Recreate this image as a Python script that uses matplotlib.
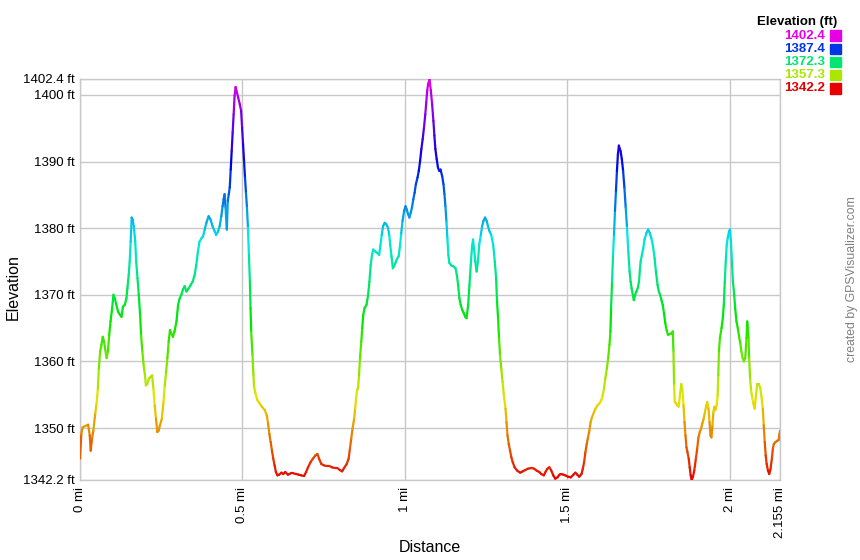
"""
Perfil de elevacao (estilo GPSVisualizer) - linha colorida pela altitude.
"""
import colorsys

import matplotlib
matplotlib.use("Agg")
import matplotlib.pyplot as plt
import numpy as np
from matplotlib.collections import LineCollection
from matplotlib.colors import ListedColormap, Normalize

plt.rcParams["font.family"] = ["Liberation Sans", "DejaVu Sans"]

# distancia (milhas) e elevacao (pes)
dist_mi = [
    0.000, 0.004, 0.008, 0.016, 0.025, 0.030, 0.033, 0.037, 0.041, 0.047,
    0.051, 0.055, 0.058, 0.062, 0.066, 0.070, 0.074, 0.078, 0.082, 0.086,
    0.090, 0.094, 0.099, 0.103, 0.107, 0.112, 0.117, 0.123, 0.128, 0.132,
    0.138, 0.143, 0.146, 0.150, 0.153, 0.156, 0.159, 0.162, 0.166, 0.170,
    0.173, 0.177, 0.181, 0.185, 0.188, 0.192, 0.196, 0.200, 0.203, 0.207,
    0.212, 0.218, 0.222, 0.226, 0.230, 0.234, 0.238, 0.242, 0.246, 0.252,
    0.257, 0.261, 0.265, 0.269, 0.273, 0.277, 0.281, 0.286, 0.291, 0.297,
    0.302, 0.307, 0.312, 0.317, 0.322, 0.328, 0.335, 0.341, 0.347, 0.353,
    0.358, 0.363, 0.368, 0.374, 0.379, 0.384, 0.389, 0.396, 0.402, 0.408,
    0.415, 0.419, 0.425, 0.430, 0.435, 0.439, 0.442, 0.445, 0.448, 0.452,
    0.455, 0.458, 0.461, 0.464, 0.467, 0.470, 0.473, 0.476, 0.479, 0.483,
    0.487, 0.492, 0.496, 0.499, 0.502, 0.505, 0.508, 0.511, 0.514, 0.517,
    0.520, 0.523, 0.525, 0.527, 0.531, 0.534, 0.536, 0.540, 0.546, 0.553,
    0.560, 0.569, 0.575, 0.579, 0.583, 0.587, 0.591, 0.595, 0.599, 0.603,
    0.608, 0.613, 0.620, 0.626, 0.632, 0.640, 0.649, 0.657, 0.665, 0.673,
    0.681, 0.690, 0.696, 0.702, 0.710, 0.717, 0.725, 0.731, 0.736, 0.743,
    0.751, 0.759, 0.768, 0.776, 0.784, 0.792, 0.800, 0.807, 0.813, 0.821,
    0.827, 0.831, 0.835, 0.839, 0.844, 0.847, 0.850, 0.853, 0.856, 0.859,
    0.862, 0.866, 0.869, 0.872, 0.876, 0.882, 0.887, 0.891, 0.895, 0.899,
    0.903, 0.909, 0.915, 0.921, 0.925, 0.929, 0.933, 0.938, 0.943, 0.948,
    0.952, 0.955, 0.959, 0.963, 0.967, 0.971, 0.975, 0.981, 0.985, 0.989,
    0.993, 0.998, 1.002, 1.006, 1.010, 1.014, 1.018, 1.022, 1.026, 1.030,
    1.034, 1.039, 1.043, 1.047, 1.051, 1.055, 1.059, 1.063, 1.066, 1.069,
    1.072, 1.076, 1.080, 1.084, 1.088, 1.091, 1.094, 1.098, 1.102, 1.106,
    1.110, 1.115, 1.119, 1.122, 1.125, 1.128, 1.131, 1.134, 1.137, 1.143,
    1.149, 1.156, 1.160, 1.164, 1.168, 1.172, 1.177, 1.182, 1.186, 1.190,
    1.195, 1.199, 1.203, 1.207, 1.210, 1.213, 1.217, 1.221, 1.225, 1.229,
    1.234, 1.238, 1.242, 1.247, 1.252, 1.256, 1.261, 1.266, 1.272, 1.277,
    1.281, 1.284, 1.287, 1.290, 1.293, 1.297, 1.301, 1.305, 1.310, 1.313,
    1.316, 1.320, 1.324, 1.328, 1.332, 1.338, 1.346, 1.355, 1.363, 1.371,
    1.379, 1.390, 1.398, 1.406, 1.414, 1.420, 1.428, 1.434, 1.439, 1.445,
    1.451, 1.457, 1.463, 1.470, 1.476, 1.482, 1.488, 1.494, 1.502, 1.511,
    1.519, 1.525, 1.531, 1.537, 1.544, 1.548, 1.552, 1.556, 1.560, 1.564,
    1.568, 1.572, 1.576, 1.580, 1.587, 1.593, 1.599, 1.605, 1.609, 1.613,
    1.617, 1.622, 1.626, 1.630, 1.633, 1.635, 1.638, 1.641, 1.644, 1.647,
    1.650, 1.653, 1.656, 1.659, 1.664, 1.668, 1.672, 1.676, 1.680, 1.684,
    1.688, 1.692, 1.695, 1.698, 1.702, 1.705, 1.709, 1.713, 1.717, 1.721,
    1.724, 1.726, 1.730, 1.734, 1.738, 1.744, 1.749, 1.754, 1.759, 1.764,
    1.769, 1.773, 1.778, 1.782, 1.786, 1.790, 1.794, 1.798, 1.802, 1.806,
    1.810, 1.815, 1.821, 1.825, 1.827, 1.829, 1.831, 1.835, 1.839, 1.843,
    1.847, 1.851, 1.855, 1.858, 1.861, 1.864, 1.867, 1.870, 1.874, 1.877,
    1.880, 1.883, 1.887, 1.891, 1.896, 1.900, 1.904, 1.908, 1.912, 1.916,
    1.920, 1.924, 1.928, 1.931, 1.935, 1.938, 1.941, 1.944, 1.947, 1.950,
    1.953, 1.956, 1.960, 1.963, 1.965, 1.967, 1.970, 1.975, 1.979, 1.982,
    1.985, 1.988, 1.991, 1.994, 1.998, 2.001, 2.004, 2.007, 2.010, 2.014,
    2.017, 2.021, 2.025, 2.029, 2.033, 2.036, 2.040, 2.044, 2.048, 2.052,
    2.054, 2.056, 2.058, 2.060, 2.063, 2.066, 2.069, 2.073, 2.077, 2.081,
    2.085, 2.089, 2.094, 2.098, 2.102, 2.105, 2.108, 2.111, 2.114, 2.118,
    2.122, 2.126, 2.130, 2.133, 2.136, 2.141, 2.147, 2.151, 2.153, 2.155,
]
elev_ft = [
    1345.4, 1349.1, 1350.1, 1350.3, 1350.5, 1348.9, 1346.6, 1348.4, 1349.6, 1352.2,
    1353.7, 1355.9, 1358.9, 1361.5, 1362.5, 1363.7, 1363.0, 1361.7, 1360.5, 1361.5,
    1364.0, 1366.0, 1368.0, 1370.0, 1369.5, 1368.5, 1367.5, 1367.0, 1366.7, 1368.2,
    1368.5, 1369.5, 1371.0, 1373.0, 1375.0, 1378.0, 1381.6, 1381.3, 1380.1, 1378.0,
    1375.0, 1372.5, 1370.0, 1367.0, 1364.0, 1361.5, 1359.4, 1357.9, 1356.4, 1356.6,
    1357.4, 1357.7, 1357.9, 1355.9, 1353.4, 1351.4, 1349.4, 1349.6, 1350.4, 1351.4,
    1353.9, 1356.4, 1358.4, 1360.5, 1363.0, 1364.7, 1364.2, 1363.7, 1364.5, 1366.0,
    1368.5, 1369.5, 1370.0, 1370.8, 1371.3, 1370.5, 1371.0, 1371.5, 1372.0, 1373.0,
    1374.5, 1376.5, 1378.0, 1378.5, 1378.8, 1379.8, 1380.8, 1381.8, 1381.3, 1380.3,
    1379.5, 1379.0, 1379.5, 1380.3, 1381.8, 1383.3, 1384.3, 1385.1, 1383.1, 1379.8,
    1384.1, 1385.1, 1386.1, 1388.8, 1391.6, 1394.4, 1397.1, 1399.9, 1401.2, 1400.4,
    1399.6, 1398.6, 1397.6, 1395.1, 1392.6, 1390.1, 1387.6, 1385.3, 1383.1, 1380.1,
    1376.0, 1372.0, 1368.0, 1364.5, 1361.0, 1357.9, 1356.2, 1355.2, 1354.2, 1353.7,
    1353.2, 1352.7, 1351.9, 1350.7, 1349.1, 1347.9, 1346.6, 1345.4, 1344.4, 1343.4,
    1342.9, 1343.0, 1343.3, 1343.1, 1343.4, 1343.0, 1343.2, 1343.2, 1343.1, 1343.0,
    1342.9, 1342.8, 1343.4, 1344.1, 1344.9, 1345.4, 1345.9, 1346.1, 1345.4, 1344.6,
    1344.4, 1344.3, 1344.3, 1344.1, 1344.0, 1344.0, 1343.7, 1343.5, 1344.0, 1344.6,
    1345.4, 1346.9, 1348.4, 1349.9, 1351.4, 1352.9, 1354.4, 1355.7, 1356.0, 1357.9,
    1360.5, 1363.0, 1365.0, 1367.0, 1368.0, 1368.5, 1370.0, 1372.0, 1374.5, 1376.0,
    1376.8, 1376.5, 1376.3, 1376.0, 1377.5, 1379.0, 1380.3, 1380.8, 1380.6, 1380.1,
    1379.0, 1377.5, 1375.8, 1374.0, 1374.3, 1374.8, 1375.3, 1375.8, 1377.3, 1379.3,
    1381.1, 1382.6, 1383.3, 1382.8, 1382.1, 1381.6, 1382.3, 1383.1, 1384.3, 1385.3,
    1386.6, 1387.6, 1388.6, 1390.1, 1391.9, 1393.4, 1395.1, 1397.1, 1398.9, 1400.7,
    1401.7, 1402.3, 1400.7, 1398.6, 1396.1, 1393.9, 1391.9, 1390.4, 1389.1, 1388.6,
    1388.8, 1387.8, 1386.6, 1385.1, 1383.3, 1381.1, 1378.5, 1376.0, 1374.8, 1374.4,
    1374.3, 1374.0, 1373.0, 1371.5, 1369.5, 1368.5, 1367.7, 1367.2, 1366.7, 1366.5,
    1368.5, 1371.5, 1374.5, 1377.3, 1378.3, 1377.0, 1375.0, 1373.5, 1375.0, 1377.5,
    1379.0, 1380.3, 1381.1, 1381.6, 1381.1, 1380.3, 1379.5, 1379.0, 1377.5, 1375.0,
    1372.5, 1369.0, 1366.5, 1363.5, 1361.0, 1358.9, 1356.9, 1354.9, 1352.9, 1350.9,
    1348.9, 1347.6, 1346.6, 1345.6, 1344.9, 1344.1, 1343.6, 1343.3, 1343.5, 1343.7,
    1343.9, 1344.0, 1343.9, 1343.6, 1343.4, 1343.1, 1342.9, 1343.5, 1343.9, 1344.1,
    1343.6, 1342.9, 1342.4, 1342.6, 1343.0, 1343.1, 1343.0, 1342.9, 1342.7, 1342.6,
    1343.0, 1343.3, 1343.0, 1342.7, 1343.1, 1343.9, 1344.9, 1346.4, 1347.6, 1348.6,
    1349.6, 1350.9, 1351.6, 1352.1, 1352.9, 1353.4, 1353.7, 1354.2, 1354.9, 1355.9,
    1357.4, 1358.9, 1360.5, 1362.5, 1364.5, 1368.0, 1372.0, 1376.0, 1379.0, 1382.6,
    1385.6, 1388.6, 1391.1, 1392.4, 1391.6, 1390.4, 1388.6, 1386.1, 1383.1, 1380.1,
    1376.5, 1373.5, 1372.0, 1371.0, 1370.0, 1369.2, 1370.0, 1370.5, 1371.0, 1372.0,
    1374.0, 1375.0, 1376.0, 1377.0, 1378.3, 1379.3, 1379.8, 1379.3, 1378.5, 1377.3,
    1375.5, 1373.5, 1371.5, 1370.5, 1370.0, 1369.2, 1368.5, 1367.2, 1365.7, 1364.7,
    1364.0, 1364.1, 1364.2, 1364.5, 1361.5, 1356.4, 1353.9, 1353.7, 1353.4, 1353.2,
    1354.9, 1356.6, 1355.4, 1353.4, 1350.9, 1348.9, 1347.1, 1346.4, 1345.4, 1344.1,
    1342.9, 1342.2, 1342.7, 1343.6, 1345.4, 1346.9, 1348.6, 1349.4, 1349.9, 1350.7,
    1351.4, 1352.4, 1353.4, 1353.9, 1352.9, 1350.9, 1348.9, 1348.6, 1350.4, 1352.4,
    1353.2, 1352.7, 1353.4, 1354.9, 1357.9, 1361.5, 1363.5, 1365.0, 1366.5, 1368.5,
    1372.0, 1375.0, 1377.5, 1378.5, 1379.5, 1379.8, 1378.0, 1375.0, 1372.0, 1370.0,
    1368.0, 1366.0, 1365.0, 1363.7, 1362.7, 1361.5, 1360.5, 1360.0, 1360.5, 1363.5,
    1366.0, 1365.0, 1363.5, 1360.5, 1357.4, 1355.7, 1354.7, 1353.7, 1352.9, 1354.9,
    1356.6, 1356.6, 1356.1, 1354.7, 1352.9, 1350.4, 1347.9, 1345.9, 1344.6, 1343.6,
    1343.1, 1343.9, 1345.4, 1346.9, 1347.6, 1347.9, 1348.1, 1348.2, 1349.1, 1349.6,
]

ELEV_MIN, ELEV_MAX = 1342.2, 1402.4
y_ticks = [1342.2, 1350, 1360, 1370, 1380, 1390, 1400, 1402.4]
y_labels = ["1342.2 ft", "1350 ft", "1360 ft", "1370 ft", "1380 ft",
            "1390 ft", "1400 ft", "1402.4 ft"]
x_ticks = [0, 0.5, 1, 1.5, 2, 2.155]
x_labels = ["0 mi", "0.5 mi", "1 mi", "1.5 mi", "2 mi", "2.155 mi"]
legenda_vals = ["1402.4", "1387.4", "1372.3", "1357.3", "1342.2"]

# arco-iris: vermelho (baixo) -> magenta (alto)
cores = [colorsys.hsv_to_rgb(h * 300 / 360, 1.0, 0.9) for h in np.linspace(0, 1, 256)]
cmap = ListedColormap(cores)
norm = Normalize(ELEV_MIN, ELEV_MAX)

fig = plt.figure(figsize=(8.6, 5.6), dpi=100)
ax = fig.add_axes([80 / 860, 80 / 560, 700 / 860, 401 / 560])

x = np.array(dist_mi)
y = np.array(elev_ft)
pts = np.column_stack([x, y]).reshape(-1, 1, 2)
segs = np.concatenate([pts[:-1], pts[1:]], axis=1)
lc = LineCollection(segs, cmap=cmap, norm=norm, linewidths=1.6,
                    capstyle="round", joinstyle="round", zorder=3)
lc.set_array((y[:-1] + y[1:]) / 2)
ax.add_collection(lc)

ax.set_xlim(0, 2.155)
ax.set_ylim(ELEV_MIN, ELEV_MAX)
ax.set_yticks(y_ticks)
ax.set_yticklabels(y_labels)
ax.set_xticks(x_ticks)
ax.set_xticklabels(x_labels, rotation=90)
ax.tick_params(length=0, pad=4, labelsize=9.5, colors="black")
ax.tick_params(axis="x", pad=5)
ax.grid(True, color="#c8c8c8", linewidth=1)
ax.set_axisbelow(True)
for s in ax.spines.values():
    s.set_color("#c8c8c8")
    s.set_linewidth(1)

fig.text(430 / 860, 1 - 547 / 560, "Distance", ha="center", va="center", fontsize=11.5)
fig.text(13 / 860, 1 - 287 / 560, "Elevation", ha="center", va="center",
         rotation=90, fontsize=11.5)
fig.text(852 / 860, 1 - 279 / 560, "created by GPSVisualizer.com", ha="center",
         va="center", rotation=90, fontsize=8.8, color="#808080")

# legenda de cores
fig.text(837 / 860, 1 - 21.7 / 560, "Elevation (ft)", ha="right", va="center",
         fontsize=9.5, fontweight="bold")
for i, v in enumerate(legenda_vals):
    yc = 1 - (35.7 + 13.15 * i) / 560
    c = cmap(norm(float(v)))
    fig.text(825 / 860, yc, v, ha="right", va="center", fontsize=9.5,
             fontweight="bold", color=c)
    fig.patches.append(plt.Rectangle((830 / 860, yc - 5.3 / 560), 11 / 860, 10.6 / 560,
                                     transform=fig.transFigure, color=c, figure=fig))

fig.savefig("out.png", dpi=100)
